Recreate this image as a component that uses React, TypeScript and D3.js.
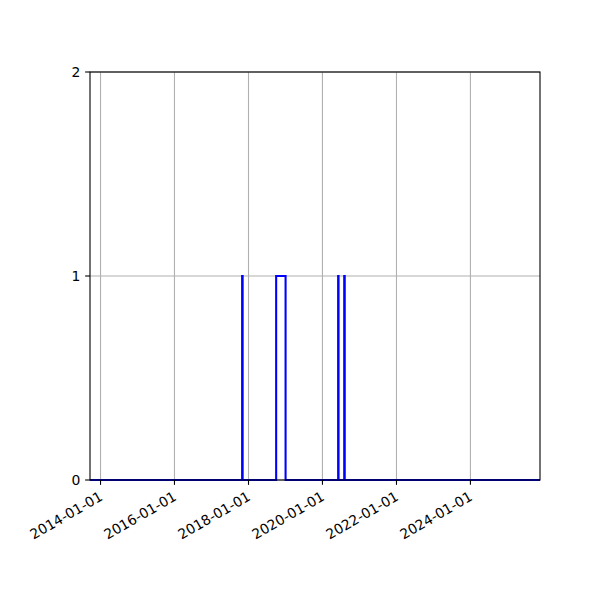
import { useEffect, useRef } from "react";
import * as d3 from "d3";

// step series: value holds from this date until the next one
const stepDates = [
  "2013-09-19",
  "2017-10-30",
  "2017-11-04",
  "2018-10-01",
  "2019-01-02",
  "2020-06-04",
  "2020-06-08",
  "2020-08-03",
  "2020-08-08",
  "2025-11-18",
];
const stepValues = [0, 1, 0, 1, 0, 1, 0, 1, 0, 0];

const xTickLabels = ["2014-01-01", "2016-01-01", "2018-01-01", "2020-01-01", "2022-01-01", "2024-01-01"];
const yTickValues = [0, 1, 2];

const xDomain = ["2013-09-19", "2025-11-18"];

export default function App() {
  const ref = useRef<SVGSVGElement | null>(null);

  useEffect(() => {
    const node = ref.current;
    if (!node) return;
    const svg = d3.select(node);
    svg.selectAll("*").remove();

    const width = 600;
    const height = 600;
    const left = 90;
    const right = 540;
    const top = 72;
    const bottom = 480;
    const font = "DejaVu Sans, sans-serif";
    const fontSize = 13.9;
    const tick = 4.86;

    const parse = d3.utcParse("%Y-%m-%d");
    const x = d3
      .scaleUtc()
      .domain(xDomain.map((d) => parse(d) as Date))
      .range([left, right]);
    const y = d3.scaleLinear().domain([0, 2]).range([bottom, top]);

    svg.attr("width", width).attr("height", height).attr("viewBox", `0 0 ${width} ${height}`);
    svg.append("rect").attr("width", width).attr("height", height).attr("fill", "#ffffff");

    const xTicks = xTickLabels.map((d) => parse(d) as Date);

    // grid
    const grid = svg.append("g").attr("stroke", "#b0b0b0").attr("stroke-width", 1.1);
    grid
      .selectAll("line.gx")
      .data(xTicks)
      .join("line")
      .attr("x1", (d) => x(d))
      .attr("x2", (d) => x(d))
      .attr("y1", top)
      .attr("y2", bottom);
    grid
      .selectAll("line.gy")
      .data(yTickValues)
      .join("line")
      .attr("x1", left)
      .attr("x2", right)
      .attr("y1", (d) => y(d))
      .attr("y2", (d) => y(d));

    // step line
    const points = stepDates.map((d, i) => ({ date: parse(d) as Date, value: stepValues[i] }));
    const line = d3
      .line<{ date: Date; value: number }>()
      .x((d) => x(d.date))
      .y((d) => y(d.value))
      .curve(d3.curveStepAfter);
    svg
      .append("path")
      .datum(points)
      .attr("d", line)
      .attr("fill", "none")
      .attr("stroke", "#0000ff")
      .attr("stroke-width", 2.08)
      .attr("stroke-linejoin", "miter");

    // spines
    svg
      .append("rect")
      .attr("x", left)
      .attr("y", top)
      .attr("width", right - left)
      .attr("height", bottom - top)
      .attr("fill", "none")
      .attr("stroke", "#000000")
      .attr("stroke-width", 1.1);

    // x ticks
    const xa = svg.append("g");
    xa.selectAll("line")
      .data(xTicks)
      .join("line")
      .attr("x1", (d) => x(d))
      .attr("x2", (d) => x(d))
      .attr("y1", bottom)
      .attr("y2", bottom + tick)
      .attr("stroke", "#000")
      .attr("stroke-width", 1.1);
    xa.selectAll("text")
      .data(xTicks)
      .join("text")
      .attr("transform", (d) => `translate(${x(d) - 2},${bottom + tick * 2 + 1}) rotate(-30)`)
      .attr("text-anchor", "end")
      .attr("dy", "0.72em")
      .attr("font-family", font)
      .attr("font-size", fontSize)
      .attr("fill", "#000")
      .text((_d, i) => xTickLabels[i]);

    // y ticks
    const ya = svg.append("g");
    ya.selectAll("line")
      .data(yTickValues)
      .join("line")
      .attr("x1", left - tick)
      .attr("x2", left)
      .attr("y1", (d) => y(d))
      .attr("y2", (d) => y(d))
      .attr("stroke", "#000")
      .attr("stroke-width", 1.1);
    ya.selectAll("text")
      .data(yTickValues)
      .join("text")
      .attr("x", left - tick * 2)
      .attr("y", (d) => y(d))
      .attr("dy", "0.36em")
      .attr("text-anchor", "end")
      .attr("font-family", font)
      .attr("font-size", fontSize)
      .attr("fill", "#000")
      .text((d) => String(d));
  }, []);

  return (
    <div style={{ width: 600, height: 600, margin: -8 }}>
      <svg ref={ref} style={{ display: "block" }} />
    </div>
  );
}
